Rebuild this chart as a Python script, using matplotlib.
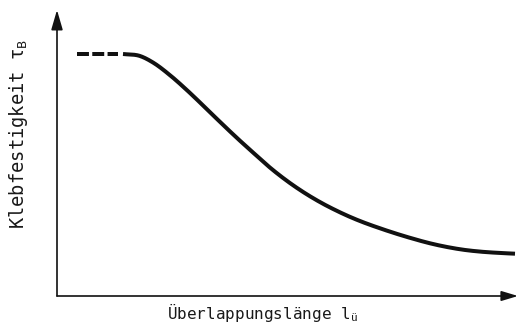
import numpy as np
import matplotlib
matplotlib.use("Agg")
import matplotlib.pyplot as plt

plt.rcParams['font.family'] = ['DejaVu Sans Mono', 'DejaVu Sans']
plt.rcParams['mathtext.fontset'] = 'custom'
plt.rcParams['mathtext.rm'] = 'DejaVu Sans Mono'
plt.rcParams['mathtext.default'] = 'regular'
plt.rcParams['lines.scale_dashes'] = False

# Data (arbitrary units)
dash_x = [20, 61]
dash_y = [242, 242]
curve_x = [66, 83, 96, 113, 130, 146, 163, 180, 196, 213, 230, 246, 263, 280, 297,
           306, 323, 340, 356, 373, 390, 406, 423, 440, 458]
curve_y = [242, 240, 233.5, 220.8, 205.8, 190.6, 174.1, 158, 143.5, 128.4, 115.1, 104.1,
           93.9, 85.1, 77.4, 73.8, 67.7, 62.1, 57.3, 52.7, 49.0, 46.3, 44.4, 43.2, 42.3]

xlabel = "Überlappungslänge $l_{ü}$"
ylabel = "Klebfestigkeit $τ_{B}$"

def smooth(xs, ys):
    xs = np.asarray(xs, float); ys = np.asarray(ys, float)
    m = np.gradient(ys, xs)
    out_x, out_y = [], []
    for i in range(len(xs) - 1):
        h = xs[i+1] - xs[i]
        t = np.linspace(0, 1, 30, endpoint=False)
        h00 = 2*t**3 - 3*t**2 + 1
        h10 = t**3 - 2*t**2 + t
        h01 = -2*t**3 + 3*t**2
        h11 = t**3 - t**2
        out_x.extend(xs[i] + t*h)
        out_y.extend(h00*ys[i] + h10*h*m[i] + h01*ys[i+1] + h11*h*m[i+1])
    out_x.append(xs[-1]); out_y.append(ys[-1])
    return np.array(out_x), np.array(out_y)

W, H = 518, 327
fig = plt.figure(figsize=(W/100, H/100), dpi=100)
ax = fig.add_axes([57/W, (H-296)/H, 461/W, 286/H])
ax.set_xlim(0, 461)
ax.set_ylim(0, 286)
ax.axis('off')

lw = 4*0.72
ax.plot(dash_x, dash_y, color='#111111', lw=lw, dashes=(8.6, 2.4), solid_capstyle='butt', dash_capstyle='butt')
sx, sy = smooth(curve_x, curve_y)
ax.plot(sx, sy, color='#111111', lw=lw, solid_capstyle='butt', solid_joinstyle='round')

# axes with arrows
ax.annotate('', xy=(0, 286), xytext=(0, 0), xycoords='data',
            arrowprops=dict(arrowstyle='-|>,head_length=1.2,head_width=0.35', color='#111111', lw=1.2,
                            shrinkA=0, shrinkB=0), annotation_clip=False)
ax.annotate('', xy=(461, 0), xytext=(0, 0), xycoords='data',
            arrowprops=dict(arrowstyle='-|>,head_length=1.0,head_width=0.3', color='#111111', lw=1.2,
                            shrinkA=0, shrinkB=0), annotation_clip=False)

fig.text(19/W, 1 - 134/H, ylabel, rotation=90, ha='center', va='center', fontsize=13.5, color='#1a1a1a')
fig.text(262/W, 1 - 313/H, xlabel, ha='center', va='center', fontsize=11.5, color='#1a1a1a')

fig.savefig('out.png', dpi=100, facecolor='white')
